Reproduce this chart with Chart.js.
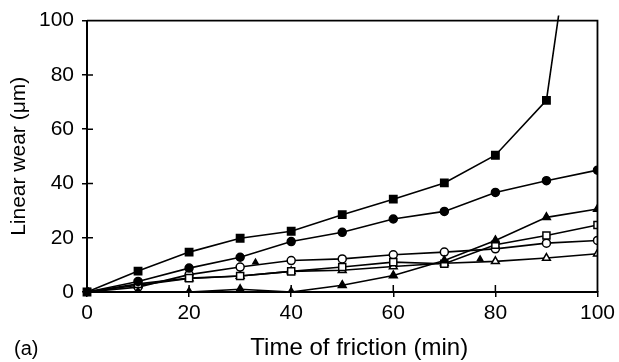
<!DOCTYPE html>
<html>
<head>
<meta charset="utf-8">
<script src="https://cdn.jsdelivr.net/npm/chart.js@4/dist/chart.umd.min.js"></script>
<style>
  html, body { margin: 0; padding: 0; background: #fff; }
  #wrap { width: 619px; height: 362px; }
</style>
</head>
<body>
<div id="wrap"><canvas id="chart" width="619" height="362"></canvas></div>
<script>
// time of friction (min)
const times = [0, 10, 20, 30, 40, 50, 60, 70, 80, 90, 100];
// linear wear (um) for each specimen
const wearFilledSquare = [0, 7.7, 14.7, 19.8, 22.4, 28.5, 34.2, 40.2, 50.4, 70.6];
const wearFilledSquareEnd = { x: 93, y: 110 }; // curve leaving the top of the plot
const wearFilledCircle = [0, 3.9, 8.8, 12.8, 18.6, 22.0, 26.9, 29.7, 36.7, 41.0, 44.9];
const wearFilledTriangle = [0, 0, 0, 1.0, 0, 2.5, 6.1, 11.6, 19.0, 27.5, 30.6];
const wearOpenSquare = [0, 3.0, 5.1, 5.9, 7.6, 9.2, 11.0, 10.4, 17.4, 20.8, 24.7];
const wearOpenCircle = [0, 1.8, 6.4, 9.2, 11.6, 12.2, 13.7, 14.7, 15.9, 18.0, 19.0];
const wearOpenTriangle = [0, 2.5, 5.0, 5.9, 7.6, 8.0, 9.4, 10.6, 11.3, 12.5, 14.1];
// two stray small markers
const strayX = [33, 77];
const strayY = [11.0, 12.2];

const xTicks = [0, 20, 40, 60, 80, 100];
const yTicks = [0, 20, 40, 60, 80, 100];

const pts = (ys) => ys.map((y, i) => ({ x: times[i], y: y }));

const FONT = "'Liberation Sans', Arial, sans-serif";

function series(label, data, style, filled, radius) {
  return {
    label: label,
    data: data,
    borderColor: "#000",
    borderWidth: 1.6,
    pointStyle: style,
    pointRadius: radius,
    pointBorderWidth: 1.5,
    pointBorderColor: "#000",
    pointBackgroundColor: filled ? "#000" : "#fff",
    tension: 0,
    fill: false,
  };
}

const sqData = pts(wearFilledSquare).concat([wearFilledSquareEnd]);
const sqSet = series("filled square", sqData, "rect", true, 5.2);
sqSet.pointRadius = sqData.map((p, i) => (i === sqData.length - 1 ? 0 : 5.2));
sqSet.clip = { left: 5, top: 5, right: 5, bottom: 5 };

const datasets = [
  sqSet,
  series("filled circle", pts(wearFilledCircle), "circle", true, 4),
  series("filled triangle", pts(wearFilledTriangle), "triangle", true, 4.5),
  series("open square", pts(wearOpenSquare), "rect", false, 5),
  series("open circle", pts(wearOpenCircle), "circle", false, 4),
  series("open triangle", pts(wearOpenTriangle), "triangle", false, 4.5),
  Object.assign(
    series("stray", strayX.map((x, i) => ({ x: x, y: strayY[i] })), "triangle", true, 3),
    { showLine: false }
  ),
];

// frame on top/right, ticks crossing the axes, axis title and panel label
const framePlugin = {
  id: "frame",
  afterDatasetsDraw(chart) {
    const { ctx, chartArea: a, scales } = chart;
    ctx.save();
    ctx.strokeStyle = "#000";
    ctx.lineWidth = 1.8;
    ctx.beginPath();
    ctx.moveTo(a.left, a.top);
    ctx.lineTo(a.right, a.top);
    ctx.lineTo(a.right, a.bottom);
    ctx.stroke();
    ctx.lineWidth = 1.5;
    ctx.beginPath();
    scales.x.ticks.forEach((t) => {
      const px = scales.x.getPixelForValue(t.value);
      if (t.value > 0 && t.value < 100) {
        ctx.moveTo(px, a.bottom);
        ctx.lineTo(px, a.bottom - 7);
      }
    });
    scales.y.ticks.forEach((t) => {
      const py = scales.y.getPixelForValue(t.value);
      if (t.value > 0 && t.value < 100) {
        ctx.moveTo(a.left, py);
        ctx.lineTo(a.left + 6, py);
      }
    });
    ctx.stroke();
    ctx.fillStyle = "#000";
    ctx.textBaseline = "middle";
    ctx.font = "20px " + FONT;
    ctx.textAlign = "left";
    ctx.fillText("(a)", 14, 349);
    ctx.font = "24px " + FONT;
    ctx.textAlign = "center";
    ctx.fillText("Time of friction (min)", (a.left + a.right) / 2 + 17, 348);
    ctx.restore();
  },
};

new Chart(document.getElementById("chart"), {
  type: "line",
  data: { datasets: datasets },
  options: {
    responsive: false,
    animation: false,
    layout: { padding: { left: 0, right: 17, top: 19, bottom: 0 } },
    plugins: { legend: { display: false }, tooltip: { enabled: false } },
    scales: {
      x: {
        type: "linear",
        min: 0,
        max: 100,
        afterFit: (s) => { s.height = 70; },
        afterBuildTicks: (s) => { s.ticks = xTicks.map((v) => ({ value: v })); },
        grid: { drawOnChartArea: false, drawTicks: true, tickLength: 5, color: "#000", lineWidth: 1.5 },
        border: { display: true, color: "#000", width: 2 },
        ticks: { color: "#000", padding: 4, font: { family: FONT, size: 21 } },
      },
      y: {
        type: "linear",
        min: 0,
        max: 100,
        afterFit: (s) => { s.width = 87; },
        afterBuildTicks: (s) => { s.ticks = yTicks.map((v) => ({ value: v })); },
        grid: { drawOnChartArea: false, drawTicks: true, tickLength: 5, color: "#000", lineWidth: 1.5 },
        border: { display: true, color: "#000", width: 2 },
        ticks: { color: "#000", padding: 8, font: { family: FONT, size: 21 } },
        title: {
          display: true,
          text: "Linear wear (\u03bcm)",
          color: "#000",
          font: { family: FONT, size: 21 },
          padding: { top: 7, bottom: 0 },
        },
      },
    },
  },
  plugins: [framePlugin],
});
</script>
</body>
</html>
